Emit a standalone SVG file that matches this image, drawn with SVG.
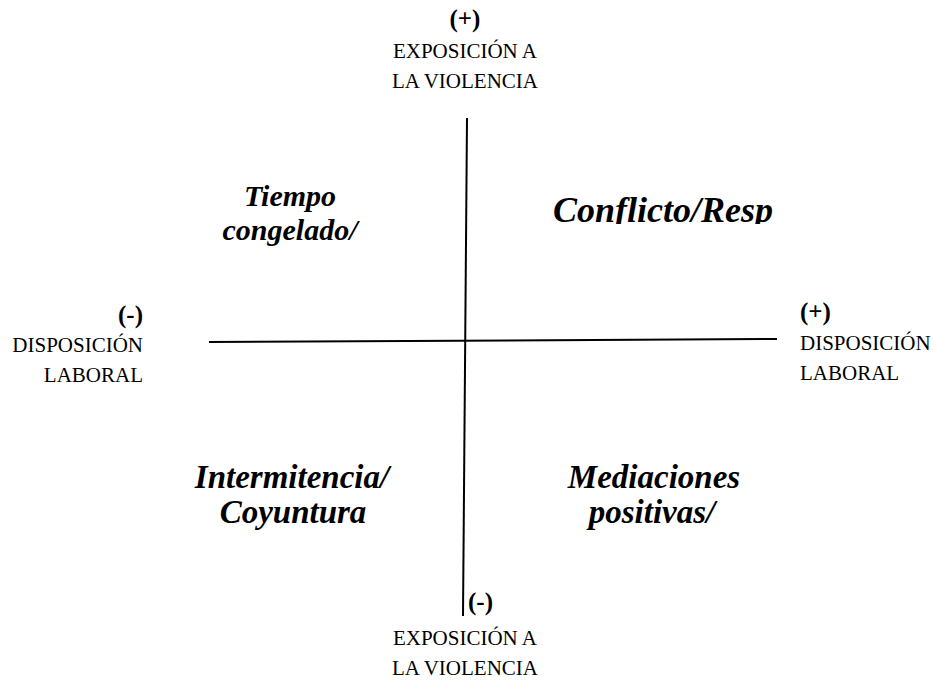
<svg xmlns="http://www.w3.org/2000/svg" width="934" height="681" viewBox="0 0 934 681">
<style>
.ax{stroke:#000;stroke-width:2;fill:none}
.sm{font-family:"Liberation Serif","Times New Roman",serif;font-size:21px;fill:#000}
.sg{font-family:"Liberation Serif","Times New Roman",serif;font-size:25px;font-weight:bold;fill:#000}
.q{font-family:"Liberation Serif","Times New Roman",serif;font-size:33px;font-weight:bold;font-style:italic;fill:#000}
</style>
<defs>
<clipPath id="clipQ2"><rect x="540" y="180" width="260" height="44"/></clipPath>
</defs>
<rect width="934" height="681" fill="#fff"/>
<g id="connectors">
<line class="ax" x1="467" y1="118" x2="463" y2="616"/>
<line class="ax" x1="209" y1="342" x2="777" y2="339"/>
</g>
<g id="axis-top" text-anchor="middle">
<text class="sg" x="465" y="27">(+)</text>
<text class="sm" x="465" y="58">EXPOSICIÓN A</text>
<text class="sm" x="465" y="88">LA VIOLENCIA</text>
</g>
<g id="axis-bottom">
<text class="sg" x="468" y="610">(-)</text>
<text class="sm" x="465" y="645" text-anchor="middle">EXPOSICIÓN A</text>
<text class="sm" x="465" y="675" text-anchor="middle">LA VIOLENCIA</text>
</g>
<g id="axis-left" text-anchor="end">
<text class="sg" x="143" y="323">(-)</text>
<text class="sm" x="143" y="352">DISPOSICIÓN</text>
<text class="sm" x="143" y="382">LABORAL</text>
</g>
<g id="axis-right">
<text class="sg" x="800" y="320">(+)</text>
<text class="sm" x="800" y="350">DISPOSICIÓN</text>
<text class="sm" x="800" y="380">LABORAL</text>
</g>
<g id="q-tiempo" text-anchor="middle">
<text class="q" x="290" y="206" style="font-size:30px">Tiempo</text>
<text class="q" x="290" y="240" style="font-size:30px">congelado/</text>
</g>
<g id="q-conflicto" clip-path="url(#clipQ2)">
<text class="q" x="553" y="222" style="font-size:36px">Conflicto/Resp</text>
</g>
<g id="q-intermitencia" text-anchor="middle">
<text class="q" x="292" y="488">Intermitencia/</text>
<text class="q" x="293" y="523">Coyuntura</text>
</g>
<g id="q-mediaciones" text-anchor="middle">
<text class="q" x="654" y="488">Mediaciones</text>
<text class="q" x="652" y="523">positivas/</text>
</g>
</svg>
